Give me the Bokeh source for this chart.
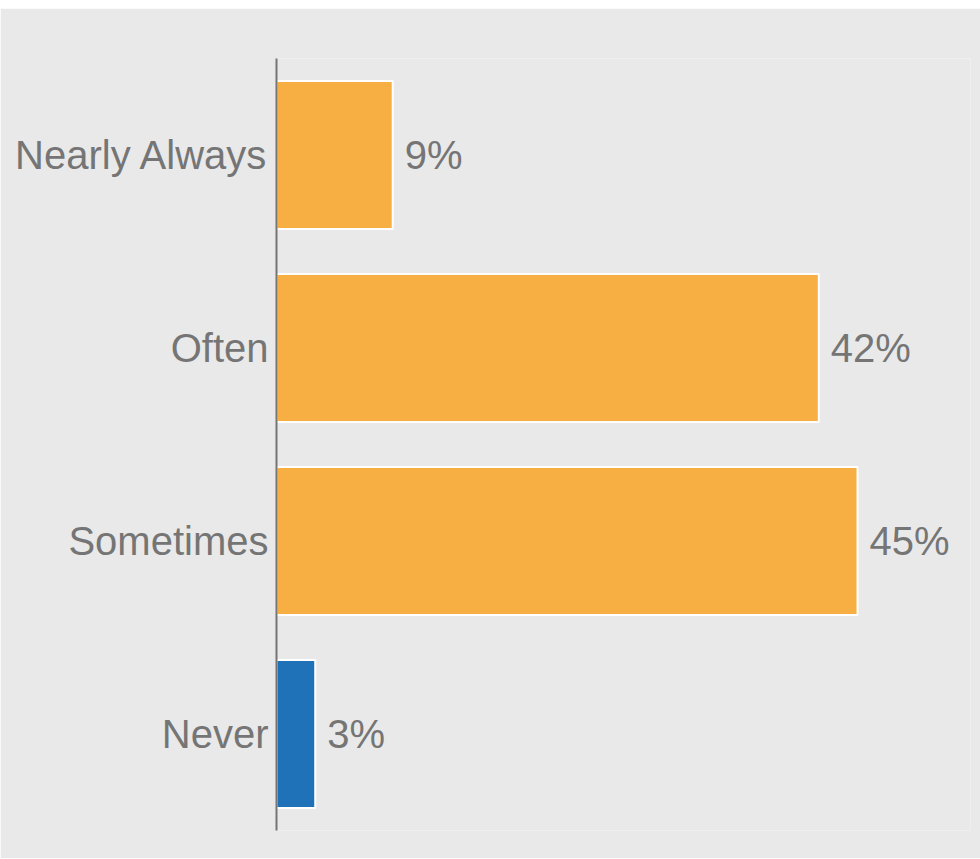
from bokeh.plotting import figure
from bokeh.layouts import column
from bokeh.models import ColumnDataSource, FactorRange, Range1d, Spacer
from bokeh.core.properties import value
from bokeh.embed import file_html
from bokeh.resources import INLINE

categories = ["Nearly Always", "Often", "Sometimes", "Never"]
percents = [9, 42, 45, 3]
bar_colors = ["#f7ae42", "#f7ae42", "#f7ae42", "#1f72b8"]
labels = [f"{v}%" for v in percents]

BG = "#e9e9e9"
TXT = "#757575"
FONT = "Liberation Sans"

source = ColumnDataSource(data=dict(cat=categories, val=percents, color=bar_colors, label=labels))

p = figure(
    width=980, height=850,
    y_range=FactorRange(factors=list(reversed(categories)), range_padding=0),
    x_range=Range1d(0, 53.75),
    x_axis_location=None,
    output_backend="svg", toolbar_location=None,
    min_border_top=50, min_border_bottom=28, min_border_left=276, min_border_right=10,
)
p.background_fill_color = BG
p.border_fill_color = BG
p.outline_line_color = None
p.grid.visible = False

p.hbar(y="cat", right="val", left=0, height=0.767, source=source,
       fill_color="color", line_color="white", line_width=2)

p.text(x="val", y="cat", text="label", source=source, x_offset=12,
       text_align="left", text_baseline="middle",
       text_font=value(FONT), text_font_size="40px", text_color=TXT)

ax = p.yaxis[0]
ax.axis_line_color = TXT
ax.axis_line_width = 2
ax.major_tick_line_color = None
ax.minor_tick_line_color = None
ax.major_tick_out = 0
ax.major_tick_in = 0
ax.major_label_standoff = 8
ax.major_label_text_font = FONT
ax.major_label_text_font_size = "40px"
ax.major_label_text_color = TXT

layout = column(Spacer(height=8, width=980), p)

open("out.html", "w").write(file_html(layout, INLINE))
